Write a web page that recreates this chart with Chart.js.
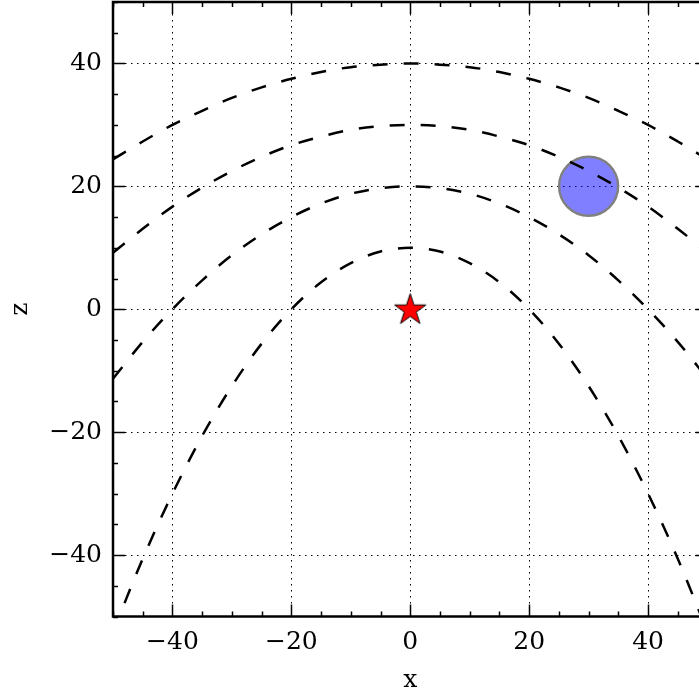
<!DOCTYPE html>
<html>
<head>
<meta charset="utf-8">
<script src="https://cdn.jsdelivr.net/npm/chart.js@4.4.1/dist/chart.umd.min.js"></script>
<style>
  html, body { margin: 0; padding: 0; background: #fff; overflow: hidden; }
  #wrap { position: absolute; left: 0; top: 0; width: 760px; height: 693px; }
</style>
</head>
<body>
<div id="wrap"><canvas id="chart"></canvas></div>
<script>
// sample positions along x, and the four dashed curves
const xSamples = [-50, -45, -40, -35, -30, -25, -20, -15, -10, -5, 0, 5, 10, 15, 20, 25, 30, 35, 40, 45, 50];
const curve10 = [-52.5, -40.6, -30.0, -20.6, -12.5, -5.6, 0.0, 4.4, 7.5, 9.4, 10.0, 9.4, 7.5, 4.4, 0.0, -5.6, -12.5, -20.6, -30.0, -40.6, -52.5];
const curve20 = [-11.3, -5.3, 0.0, 4.7, 8.8, 12.2, 15.0, 17.2, 18.8, 19.7, 20.0, 19.7, 18.8, 17.2, 15.0, 12.2, 8.8, 4.7, 0.0, -5.3, -11.3];
const curve30 = [9.2, 13.1, 16.7, 19.8, 22.5, 24.8, 26.7, 28.1, 29.2, 29.8, 30.0, 29.8, 29.2, 28.1, 26.7, 24.8, 22.5, 19.8, 16.7, 13.1, 9.2];
const curve40 = [24.4, 27.3, 30.0, 32.3, 34.4, 36.1, 37.5, 38.6, 39.4, 39.8, 40.0, 39.8, 39.4, 38.6, 37.5, 36.1, 34.4, 32.3, 30.0, 27.3, 24.4];

const starPoint = [{ x: 0, z: 0 }];
const circlePoint = [{ x: 30, z: 20 }];

const axisMin = -50;
const axisMax = 50;
const majorStep = 20;
const minorStep = 5;

const serif = "'DejaVu Serif', serif";
const fontSize = 25;

// filled five point star used as point style
function makeStar(R) {
    const c = document.createElement('canvas');
    const s = Math.ceil(R * 2 + 4);
    c.width = s; c.height = s;
    const g = c.getContext('2d');
    const r = R * 0.382;
    g.beginPath();
    for (let i = 0; i < 10; i++) {
        const rad = i % 2 === 0 ? R : r;
        const a = -Math.PI / 2 + i * Math.PI / 5;
        const px = s / 2 + rad * Math.cos(a);
        const py = s / 2 + rad * Math.sin(a) + R * 0.05;
        if (i === 0) g.moveTo(px, py); else g.lineTo(px, py);
    }
    g.closePath();
    g.fillStyle = '#ff0000';
    g.fill();
    g.strokeStyle = '#000';
    g.lineWidth = 1;
    g.stroke();
    return c;
}

const toXY = ys => xSamples.map((x, i) => ({ x: x, y: ys[i] }));
const fmt = v => (v < 0 ? '\u2212' + Math.abs(v) : String(v));
const isMajor = v => v % majorStep === 0 && Math.abs(v) < axisMax;

const curveStyle = {
    showLine: true,
    borderColor: '#000',
    borderWidth: 2.5,
    borderDash: [15, 16],
    pointRadius: 0,
    fill: false,
    cubicInterpolationMode: 'monotone'
};

// inward tick marks and the box round the plot
const framePlugin = {
    id: 'frame',
    afterDraw(chart) {
        const { ctx, chartArea: a, scales } = chart;
        const line = (x1, y1, x2, y2) => { ctx.beginPath(); ctx.moveTo(x1, y1); ctx.lineTo(x2, y2); ctx.stroke(); };
        ctx.save();
        ctx.strokeStyle = '#000';
        ctx.lineWidth = 1.5;
        scales.x.ticks.forEach(t => {
            const px = Math.round(scales.x.getPixelForValue(t.value)) + 0.5;
            const len = t.value % majorStep === 0 ? 12 : 5;
            line(px, a.bottom, px, a.bottom - len);
            line(px, a.top, px, a.top + len);
        });
        scales.y.ticks.forEach(t => {
            const py = Math.round(scales.y.getPixelForValue(t.value)) + 0.5;
            const len = t.value % majorStep === 0 ? 12 : 5;
            line(a.left, py, a.left + len, py);
            line(a.right, py, a.right - len, py);
        });
        ctx.lineWidth = 2.5;
        ctx.strokeRect(a.left, a.top, a.right - a.left, a.bottom - a.top);
        ctx.restore();
    }
};

const gridOpts = {
    color: c => (c.tick && isMajor(c.tick.value) ? '#000' : 'rgba(0,0,0,0)'),
    lineWidth: 1,
    drawTicks: false
};

new Chart(document.getElementById('chart').getContext('2d'), {
    type: 'scatter',
    data: {
        datasets: [
            Object.assign({ data: toXY(curve10) }, curveStyle),
            Object.assign({ data: toXY(curve20) }, curveStyle),
            Object.assign({ data: toXY(curve30) }, curveStyle),
            Object.assign({ data: toXY(curve40) }, curveStyle),
            {
                data: starPoint.map(p => ({ x: p.x, y: p.z })),
                pointStyle: makeStar(16.5),
                pointRadius: 17
            },
            {
                data: circlePoint.map(p => ({ x: p.x, y: p.z })),
                pointStyle: 'circle',
                pointRadius: 29.5,
                backgroundColor: 'rgba(0,0,255,0.5)',
                borderColor: '#808080',
                borderWidth: 2.5
            }
        ]
    },
    options: {
        responsive: true,
        maintainAspectRatio: false,
        animation: false,
        events: [],
        layout: { autoPadding: false, padding: { left: 0, top: 2, right: 52.5, bottom: 0 } },
        plugins: { legend: { display: false }, tooltip: { enabled: false } },
        scales: {
            x: {
                type: 'linear',
                min: axisMin,
                max: axisMax,
                grid: gridOpts,
                border: { display: false, dash: [1.5, 4.5] },
                ticks: {
                    stepSize: minorStep,
                    autoSkip: false,
                    maxRotation: 0,
                    padding: 11,
                    color: '#000',
                    font: { family: serif, size: fontSize },
                    callback: v => (isMajor(v) ? fmt(v) : '')
                },
                title: { display: true, text: 'x', color: '#000', padding: { top: 0, bottom: 0 }, font: { family: serif, size: fontSize, lineHeight: 1.0 } },
                afterFit: s => { s.height = 76.5; s.paddingLeft = 0; s.paddingRight = 0; }
            },
            y: {
                type: 'linear',
                min: axisMin,
                max: axisMax,
                grid: gridOpts,
                border: { display: false, dash: [1.5, 4.5] },
                ticks: {
                    stepSize: minorStep,
                    autoSkip: false,
                    padding: 11,
                    color: '#000',
                    font: { family: serif, size: fontSize },
                    callback: v => (isMajor(v) ? fmt(v) : '')
                },
                title: { display: true, text: 'z', color: '#000', padding: { top: 5, bottom: 0 }, font: { family: serif, size: fontSize } },
                afterFit: s => { s.width = 113; s.paddingTop = 0; s.paddingBottom = 0; }
            }
        }
    },
    plugins: [framePlugin]
});
</script>
</body>
</html>
